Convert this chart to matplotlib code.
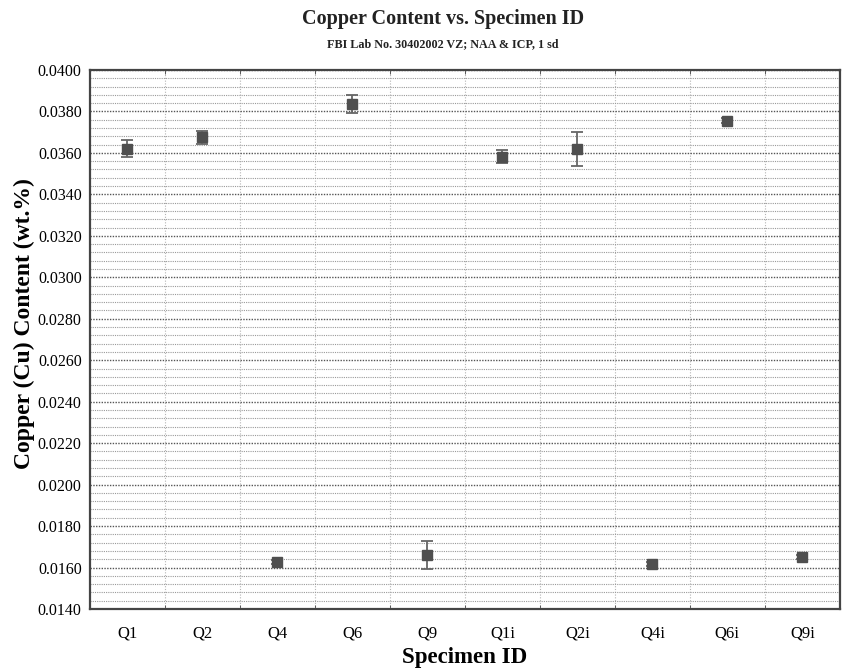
import matplotlib.pyplot as plt
from matplotlib.ticker import MultipleLocator, FormatStrFormatter

specimens = ["Q1", "Q2", "Q4", "Q6", "Q9", "Q1i", "Q2i", "Q4i", "Q6i", "Q9i"]
copper = [0.0362, 0.03675, 0.01628, 0.03834, 0.0166, 0.03582, 0.0362, 0.01616, 0.03756, 0.01652]
sd = [0.0004, 0.0003, 0.0001, 0.00043, 0.00068, 0.0003, 0.00083, 0.0001, 0.0001, 0.0001]

plt.rcParams['font.family'] = ['Liberation Serif', 'DejaVu Serif']

fig = plt.figure(figsize=(8.53, 6.71), dpi=100)
ax = fig.add_axes([0.1055, 0.0924, 0.879, 0.8033])

x = list(range(len(specimens)))
ax.errorbar(x, copper, yerr=sd, fmt='s', color='#4f4f4f', ecolor='#666666',
            markersize=7.5, elinewidth=1.3, capsize=4, capthick=1.3, zorder=3)

ax.set_xlim(-0.5, len(specimens) - 0.5)
ax.set_ylim(0.014, 0.040)

# y grid: major every 0.002, minor every 0.0004
ax.yaxis.set_major_locator(MultipleLocator(0.002))
ax.yaxis.set_minor_locator(MultipleLocator(0.0004))
ax.yaxis.set_major_formatter(FormatStrFormatter('%.4f'))
ax.grid(which='major', axis='y', color='#555555', linestyle=(0, (1, 1)), linewidth=1.0)
ax.grid(which='minor', axis='y', color='#9a9a9a', linestyle=(0, (1, 1)), linewidth=0.8)

# x: labels at the categories, grid lines between them
ax.set_xticks(x)
ax.set_xticklabels(specimens)
ax.set_xticks([i + 0.5 for i in x[:-1]], minor=True)
ax.grid(which='minor', axis='x', color='#b5b5b5', linestyle=(0, (1, 1.5)), linewidth=0.8)
ax.tick_params(axis='x', which='major', length=0, pad=12, labelsize=12)
ax.tick_params(axis='x', which='minor', direction='in', length=3, top=True, color='#444444')
ax.tick_params(axis='y', which='both', length=0, pad=6, labelsize=11.5)

for s in ax.spines.values():
    s.set_color('#444444')
    s.set_linewidth(1.6)

ax.set_xlabel("Specimen ID", fontsize=16.5, fontweight='bold')
ax.xaxis.set_label_coords(0.5, -0.071)
ax.set_ylabel("Copper (Cu) Content (wt.%)", fontsize=17, fontweight='bold')
ax.yaxis.set_label_coords(-0.073, 0.53)

fig.text(0.519, 0.972, "Copper Content vs. Specimen ID", ha='center', va='center',
         fontsize=14.5, fontweight='bold', color='#222222')
fig.text(0.519, 0.934, "FBI Lab No. 30402002 VZ; NAA & ICP, 1 sd", ha='center', va='center',
         fontsize=8.7, fontweight='bold', color='#222222')

plt.savefig("out.png", dpi=100)
